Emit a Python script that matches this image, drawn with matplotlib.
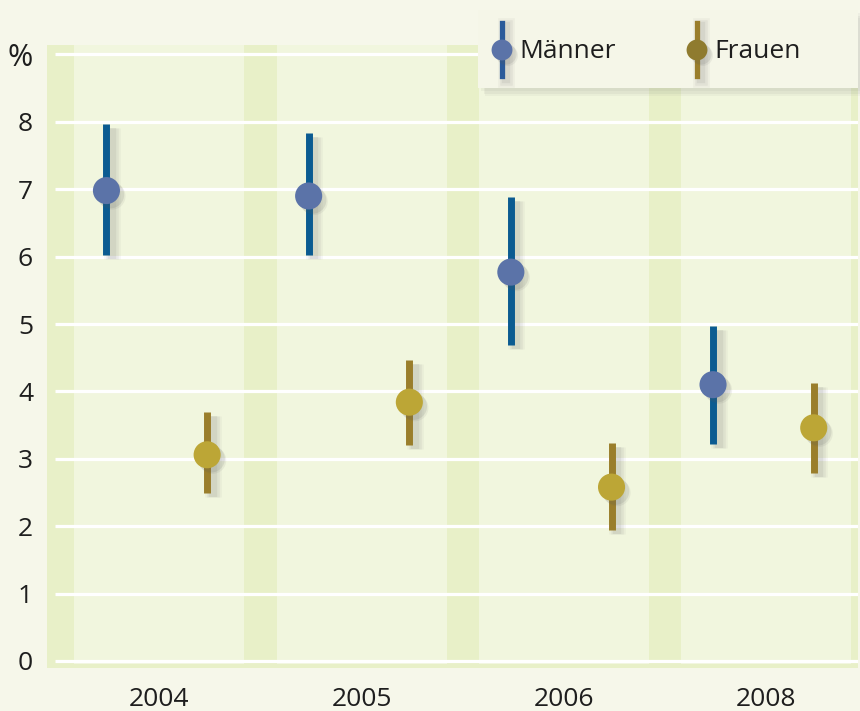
import matplotlib.pyplot as plt
import matplotlib.patheffects as pe
from matplotlib.patches import Rectangle
from matplotlib.lines import Line2D

# values (share in %)
years = ['2004', '2005', '2006', '2008']
men = [6.98, 6.90, 5.77, 4.10]
men_low = [6.02, 6.02, 4.69, 3.22]
men_high = [7.97, 7.83, 6.88, 4.97]
women = [3.06, 3.84, 2.58, 3.46]
women_low = [2.49, 3.20, 1.94, 2.79]
women_high = [3.69, 4.47, 3.23, 4.12]
yticks = list(range(10))
ytick_labels = ['0', '1', '2', '3', '4', '5', '6', '7', '8', '%']

bg = '#f6f7ea'
stripe = '#e8f0c8'
light = '#f1f6de'
men_line, men_dot = '#0b5b91', '#5b73a8'
women_line, women_dot = '#9a7e2b', '#bca636'

plt.rcParams['font.family'] = ['Open Sans', 'DejaVu Sans']

W, H = 860, 711
def fx(x):
    return x / W
def fy(y):
    return 1 - y / H

# soft "blurred" shadows made of a few faint layers
def line_shadow(off=(4, -3)):
    fx_list = []
    for lw, a in [(12, 0.05), (9, 0.07), (6, 0.09)]:
        fx_list.append(pe.SimpleLineShadow(offset=off, shadow_color='0.35', alpha=a, linewidth=lw))
    return fx_list + [pe.Normal()]

def dot_shadow(off=(3, -3)):
    return [pe.SimplePatchShadow(offset=(off[0] + 1, off[1] - 1), shadow_rgbFace='0.35', alpha=0.08),
            pe.SimplePatchShadow(offset=off, shadow_rgbFace='0.35', alpha=0.12),
            pe.Normal()]

fig = plt.figure(figsize=(8.6, 7.11), dpi=100, facecolor=bg)
ax = fig.add_axes([fx(47), fy(668), (858 - 47) / W, (668 - 45) / H])
ax.set_facecolor(stripe)
ax.set_xlim(-0.556, 3.455)
ax.set_ylim(-0.104, 9.14)

pos = list(range(len(years)))
for i in pos:
    ax.add_patch(Rectangle((i - 0.42, -0.045), 0.84, 10, fc=light, ec='none', zorder=0))

ax.hlines(yticks, -0.517, 3.5, color='white', lw=2.3, zorder=1)

mx = [p - 0.262 for p in pos]
wx = [p + 0.236 for p in pos]
ax.vlines(mx, men_low, men_high, color=men_line, lw=5, zorder=3, path_effects=line_shadow())
ax.vlines(wx, women_low, women_high, color=women_line, lw=5, zorder=3, path_effects=line_shadow())
ax.plot(mx, men, 'o', ms=19.5, color=men_dot, mec='none', zorder=4, path_effects=dot_shadow())
ax.plot(wx, women, 'o', ms=19.5, color=women_dot, mec='none', zorder=4, path_effects=dot_shadow())

for s in ax.spines.values():
    s.set_visible(False)
ax.set_xticks(pos)
ax.set_xticklabels(years)
ax.set_yticks(yticks)
ax.set_yticklabels(ytick_labels)
ax.tick_params(axis='both', length=0, labelsize=19, colors='#1e1e1e')
ax.tick_params(axis='y', pad=10)
ax.tick_params(axis='x', pad=14)
ax.get_yticklabels()[-1].set_fontsize(22)

# legend box drawn by hand
box_shadow = [pe.withSimplePatchShadow(offset=(2, -2), shadow_rgbFace='0.4', alpha=0.06)]
for o, a in [((5, -6), 0.05), ((4, -4), 0.07)]:
    box_shadow.insert(0, pe.SimplePatchShadow(offset=o, shadow_rgbFace='0.4', alpha=a))
box = Rectangle((fx(478), fy(88)), 380 / W, 78 / H, transform=fig.transFigure,
                fc='#f5f6e8', ec='none', zorder=5, path_effects=box_shadow)
fig.add_artist(box)
for x0, lc, dc, name in [(502, '#2a5a9a', men_dot, 'Männer'), (697, '#9a7e2b', '#8f7b2f', 'Frauen')]:
    fig.add_artist(Line2D([fx(x0), fx(x0)], [fy(23), fy(76)], lw=3.8, color=lc,
                          transform=fig.transFigure, zorder=6, path_effects=line_shadow((3, -2))))
    fig.add_artist(Line2D([fx(x0)], [fy(50)], marker='o', ms=15, color=dc, mec='none',
                          transform=fig.transFigure, zorder=7, path_effects=dot_shadow()))
    fig.text(fx(x0 + 17), fy(52), name, fontsize=19, color='#1e1e1e', va='center', ha='left', zorder=8)

fig.savefig('out.png', dpi=100, facecolor=bg)
